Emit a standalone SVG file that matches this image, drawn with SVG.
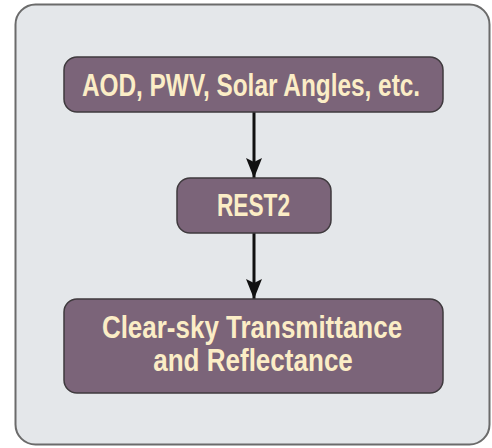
<svg xmlns="http://www.w3.org/2000/svg" width="492" height="448" viewBox="0 0 492 448">
<defs>
<style>
.box{fill:#7b6479;stroke:#3f3a3e;stroke-width:1.5}
.t{font-family:"Liberation Sans",Arial,sans-serif;font-weight:bold;fill:#fbedc6;font-size:32px;text-anchor:middle}
.c{stroke:#111;stroke-width:3;fill:none}
</style>
<marker id="ah" viewBox="0 0 20 16" refX="20" refY="8" markerWidth="20" markerHeight="16" markerUnits="userSpaceOnUse" orient="auto">
<path d="M0,0 L20,8 L0,16 L4,8 z" fill="#111"/>
</marker>
</defs>
<rect x="0" y="0" width="492" height="448" fill="#ffffff"/>
<g id="frame">
<rect x="15.5" y="4.5" width="474" height="440" rx="20" fill="#e4e7ea" stroke="#6b6b6b" stroke-width="2"/>
</g>
<g id="connectors">
<line class="c" x1="254" y1="112" x2="254" y2="178" marker-end="url(#ah)"/>
<line class="c" x1="254" y1="233" x2="254" y2="299" marker-end="url(#ah)"/>
</g>
<g id="inputs">
<rect class="box" x="64" y="57" width="379" height="55" rx="13"/>
<text class="t" transform="translate(251,96) scale(0.755,1)" x="0" y="0" textLength="448" lengthAdjust="spacingAndGlyphs">AOD, PWV, Solar Angles, etc.</text>
</g>
<g id="rest2">
<rect class="box" x="177" y="178" width="154" height="55" rx="13"/>
<text class="t" transform="translate(253.5,216) scale(0.71,1)" x="0" y="0" textLength="103" lengthAdjust="spacingAndGlyphs">REST2</text>
</g>
<g id="output">
<rect class="box" x="64" y="299" width="379" height="94" rx="13"/>
<text class="t" transform="translate(252,338) scale(0.807,1)" x="0" y="0" textLength="372" lengthAdjust="spacingAndGlyphs">Clear-sky Transmittance</text>
<text class="t" transform="translate(253,371) scale(0.815,1)" x="0" y="0" textLength="245" lengthAdjust="spacingAndGlyphs">and Reflectance</text>
</g>
</svg>
